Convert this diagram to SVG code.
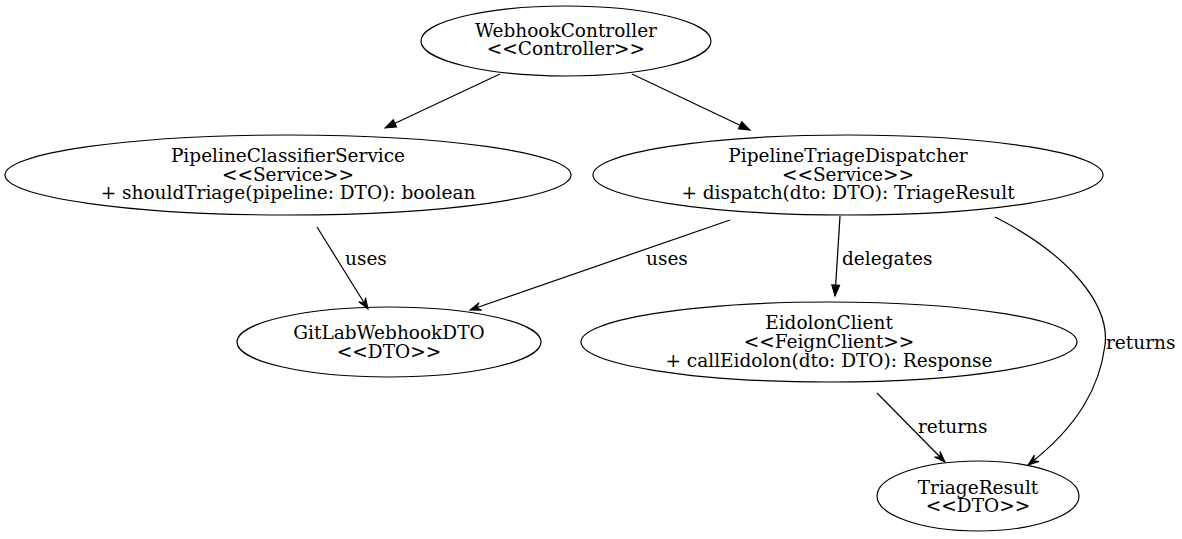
<svg xmlns="http://www.w3.org/2000/svg" width="1182" height="539" viewBox="0 0 1182 539">
<defs>
<style>
.node ellipse{fill:none;stroke:#000;stroke-width:1.2}
.node text,.lbl{font-family:"DejaVu Serif","Liberation Serif",serif;font-size:18.5px;fill:#000}
.node text{text-anchor:middle}
.edge{fill:none;stroke:#000;stroke-width:1.2}
.filled{marker-end:url(#normal)}
.open{marker-end:url(#vee)}
</style>
<marker id="normal" markerUnits="userSpaceOnUse" markerWidth="12" markerHeight="10" refX="11" refY="4" orient="auto" overflow="visible">
<path d="M0,0 L11,4 L0,8 Z" fill="#000" stroke="#000" stroke-width="1"/>
</marker>
<marker id="vee" markerUnits="userSpaceOnUse" markerWidth="12" markerHeight="10" refX="11" refY="4" orient="auto" overflow="visible">
<path d="M0,0 L11,4 L0,8 L4,4 Z" fill="#000" stroke="#000" stroke-width="1"/>
</marker>
</defs>
<rect width="1182" height="539" fill="#fff"/>
<g id="connectors">
<path class="edge filled" d="M500,74 L385,128"/>
<path class="edge filled" d="M632,74 L750,130"/>
<path class="edge open" d="M317,227 L368,309"/>
<path class="edge open" d="M730,220 L470,310"/>
<path class="edge filled" d="M840,216 L835,296"/>
<path class="edge open" d="M995,217 C1070,255 1110,305 1105,345 C1100,385 1080,425 1028,465"/>
<path class="edge open" d="M877,393 L945,462"/>
<text class="lbl" x="345" y="265">uses</text>
<text class="lbl" x="646" y="265">uses</text>
<text class="lbl" x="842" y="265">delegates</text>
<text class="lbl" x="1106" y="349">returns</text>
<text class="lbl" x="918" y="433">returns</text>
</g>
<g id="WebhookController" class="node">
<ellipse cx="566" cy="41" rx="145" ry="35"/>
<text x="566" y="37">WebhookController</text>
<text x="566" y="55">&lt;&lt;Controller&gt;&gt;</text>
</g>
<g id="PipelineClassifierService" class="node">
<ellipse cx="288" cy="175" rx="283" ry="40"/>
<text x="288" y="162">PipelineClassifierService</text>
<text x="288" y="180.5">&lt;&lt;Service&gt;&gt;</text>
<text x="288" y="199">+ shouldTriage(pipeline: DTO): boolean</text>
</g>
<g id="PipelineTriageDispatcher" class="node">
<ellipse cx="848" cy="175" rx="255" ry="40"/>
<text x="848" y="162">PipelineTriageDispatcher</text>
<text x="848" y="180.5">&lt;&lt;Service&gt;&gt;</text>
<text x="848" y="199">+ dispatch(dto: DTO): TriageResult</text>
</g>
<g id="GitLabWebhookDTO" class="node">
<ellipse cx="389" cy="342" rx="152" ry="35"/>
<text x="389" y="339">GitLabWebhookDTO</text>
<text x="389" y="358">&lt;&lt;DTO&gt;&gt;</text>
</g>
<g id="EidolonClient" class="node">
<ellipse cx="829" cy="342" rx="248" ry="40"/>
<text x="829" y="329">EidolonClient</text>
<text x="829" y="348">&lt;&lt;FeignClient&gt;&gt;</text>
<text x="829" y="367">+ callEidolon(dto: DTO): Response</text>
</g>
<g id="TriageResult" class="node">
<ellipse cx="978" cy="496" rx="101" ry="35"/>
<text x="978" y="494">TriageResult</text>
<text x="978" y="512">&lt;&lt;DTO&gt;&gt;</text>
</g>
</svg>
